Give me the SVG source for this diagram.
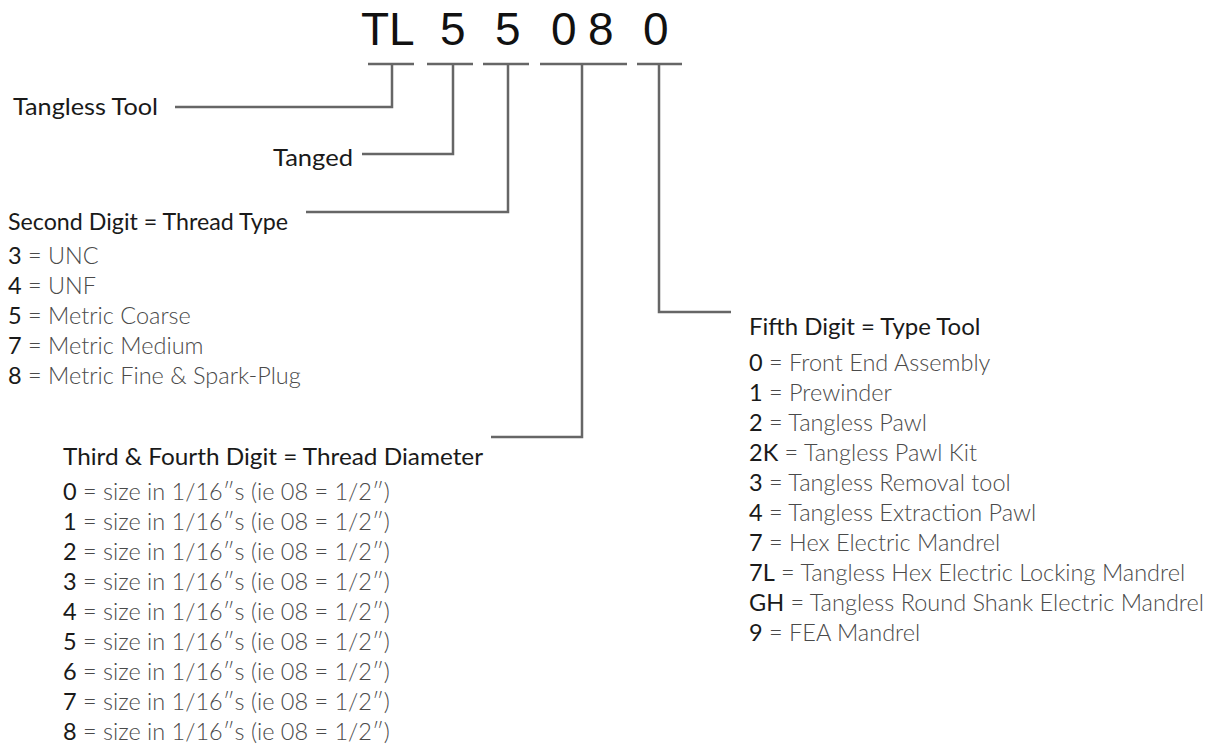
<svg xmlns="http://www.w3.org/2000/svg" width="1210" height="751" viewBox="0 0 1210 751">
<style>
.code{font-family:"Liberation Sans",Arial,sans-serif;font-size:46px;fill:#111}
.hd{font-family:Lato,"Open Sans",sans-serif;font-size:24px;fill:#1a1a1a}
.it{font-family:Lato,"Open Sans",sans-serif;font-size:23.5px;font-weight:300;fill:#4a4a4a}
.k{font-weight:400;fill:#1a1a1a}
.ln{fill:none;stroke:#666;stroke-width:2.5}
</style>
<rect width="1210" height="751" fill="#fff"/>
<g id="code">
<text class="code" y="45"><tspan x="361">TL</tspan><tspan x="440">5</tspan><tspan x="495">5</tspan><tspan x="551">0</tspan><tspan x="588">8</tspan><tspan x="643">0</tspan></text>
</g>
<g id="connectors">
<path class="ln" d="M368,64H414M427,64H473M483,64H529M540,64H627M637,64H682"/>
<path class="ln" d="M392,64V107H175"/>
<path class="ln" d="M453,64V154H362"/>
<path class="ln" d="M508,64V212H306"/>
<path class="ln" d="M582,64V437H491"/>
<path class="ln" d="M659,64V312H731"/>
</g>
<g id="tangless-tool">
<text class="hd" x="13" y="115" textLength="145" lengthAdjust="spacingAndGlyphs">Tangless Tool</text>
</g>
<g id="tanged">
<text class="hd" x="273" y="166" textLength="80" lengthAdjust="spacingAndGlyphs">Tanged</text>
</g>
<g id="second-digit">
<text class="hd" x="8" y="230" textLength="280" lengthAdjust="spacingAndGlyphs">Second Digit = Thread Type</text>
<text class="it" x="8" y="264"><tspan class="k">3</tspan> = UNC</text>
<text class="it" x="8" y="294"><tspan class="k">4</tspan> = UNF</text>
<text class="it" x="8" y="324"><tspan class="k">5</tspan> = Metric Coarse</text>
<text class="it" x="8" y="354"><tspan class="k">7</tspan> = Metric Medium</text>
<text class="it" x="8" y="384"><tspan class="k">8</tspan> = Metric Fine &amp; Spark-Plug</text>
</g>
<g id="third-fourth-digit">
<text class="hd" x="63" y="465" textLength="420" lengthAdjust="spacingAndGlyphs">Third &amp; Fourth Digit = Thread Diameter</text>
<text class="it" x="63" y="500"><tspan class="k">0</tspan> = size in 1/16″s (ie 08 = 1/2″)</text>
<text class="it" x="63" y="530"><tspan class="k">1</tspan> = size in 1/16″s (ie 08 = 1/2″)</text>
<text class="it" x="63" y="560"><tspan class="k">2</tspan> = size in 1/16″s (ie 08 = 1/2″)</text>
<text class="it" x="63" y="590"><tspan class="k">3</tspan> = size in 1/16″s (ie 08 = 1/2″)</text>
<text class="it" x="63" y="620"><tspan class="k">4</tspan> = size in 1/16″s (ie 08 = 1/2″)</text>
<text class="it" x="63" y="650"><tspan class="k">5</tspan> = size in 1/16″s (ie 08 = 1/2″)</text>
<text class="it" x="63" y="680"><tspan class="k">6</tspan> = size in 1/16″s (ie 08 = 1/2″)</text>
<text class="it" x="63" y="710"><tspan class="k">7</tspan> = size in 1/16″s (ie 08 = 1/2″)</text>
<text class="it" x="63" y="740"><tspan class="k">8</tspan> = size in 1/16″s (ie 08 = 1/2″)</text>
</g>
<g id="fifth-digit">
<text class="hd" x="749" y="335">Fifth Digit = Type Tool</text>
<text class="it" x="749" y="371"><tspan class="k">0</tspan> = Front End Assembly</text>
<text class="it" x="749" y="401"><tspan class="k">1</tspan> = Prewinder</text>
<text class="it" x="749" y="431"><tspan class="k">2</tspan> = Tangless Pawl</text>
<text class="it" x="749" y="461"><tspan class="k">2K</tspan> = Tangless Pawl Kit</text>
<text class="it" x="749" y="491"><tspan class="k">3</tspan> = Tangless Removal tool</text>
<text class="it" x="749" y="521"><tspan class="k">4</tspan> = Tangless Extraction Pawl</text>
<text class="it" x="749" y="551"><tspan class="k">7</tspan> = Hex Electric Mandrel</text>
<text class="it" x="749" y="581"><tspan class="k">7L</tspan> = Tangless Hex Electric Locking Mandrel</text>
<text class="it" x="749" y="611"><tspan class="k">GH</tspan> = Tangless Round Shank Electric Mandrel</text>
<text class="it" x="749" y="641"><tspan class="k">9</tspan> = FEA Mandrel</text>
</g>
</svg>
